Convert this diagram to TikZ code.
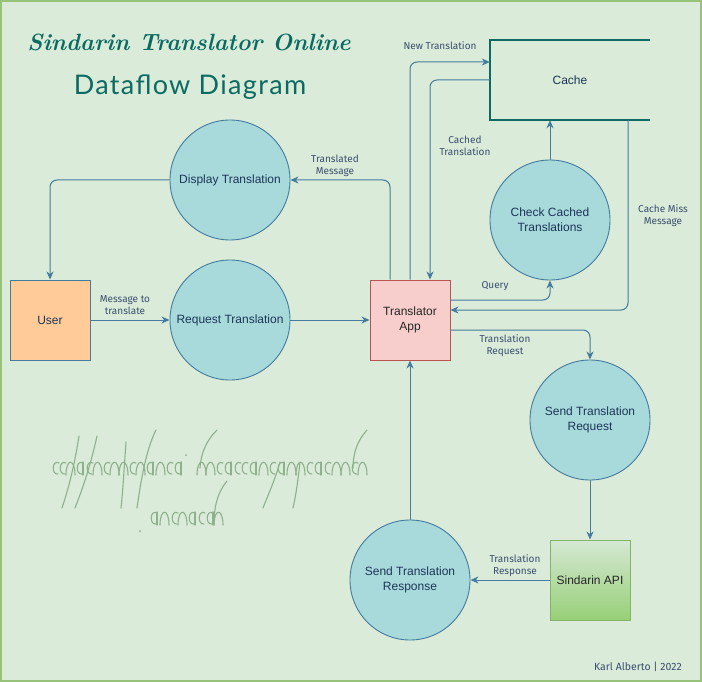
\documentclass[tikz,border=0pt]{standalone}
\usepackage{fontspec}
\usetikzlibrary{arrows.meta,shapes.geometric}
\newfontfamily\nodefont{Liberation Sans}
\newfontfamily\lblfont{Fira Sans}
\newfontfamily\subfont[LetterSpace=5]{Lato}
\definecolor{bgc}{HTML}{DAEBD9}
\definecolor{bgborder}{HTML}{97C27A}
\definecolor{procfill}{HTML}{A8DADC}
\definecolor{procline}{HTML}{457B9D}
\definecolor{navy}{HTML}{1D3557}
\definecolor{teal}{HTML}{0B6B62}
\definecolor{userfill}{HTML}{FFCC99}
\definecolor{appfill}{HTML}{F8CECC}
\definecolor{appline}{HTML}{B85450}
\definecolor{apitop}{HTML}{D5E8D4}
\definecolor{apibot}{HTML}{97D077}
\definecolor{apiline}{HTML}{82B366}
\definecolor{lblc}{HTML}{3C4E6E}
\definecolor{twc}{HTML}{8FB08C}
\newcommand\twglyphc[2]{\draw[twstroke] ({#1+7},{#2-12}) .. controls ({#1},{#2-16}) and ({#1-1},{#2}) .. ({#1+6},{#2-1});}
\newcommand\twglyphh[2]{\draw[twstroke] ({#1},{#2}) .. controls ({#1},{#2-17}) and ({#1+9},{#2-17}) .. ({#1+9},{#2});}
\newcommand\twglypha[2]{\draw[twstroke] ({#1+7},{#2-12}) .. controls ({#1},{#2-16}) and ({#1-1},{#2}) .. ({#1+6},{#2-1}); \draw[twstroke] ({#1+7},{#2-13}) -- ({#1+7},{#2});}
\begin{document}
\begin{tikzpicture}[x=1pt,y=-1pt,
  proc/.style={circle,draw=procline,fill=procfill,line width=0.9pt,minimum size=120pt,inner sep=0pt,align=center,font=\nodefont\fontsize{12}{15}\selectfont,text=navy},
  entity/.style={rectangle,line width=0.9pt,minimum size=80pt,inner sep=0pt,align=center,font=\nodefont\fontsize{12}{15}\selectfont},
  flow/.style={draw=procline,line width=1pt,rounded corners=7pt,-{Stealth[length=8pt,width=7pt,inset=2.5pt]}},
  lbl/.style={font=\lblfont\fontsize{10}{12}\selectfont,text=lblc,align=center,inner sep=1pt},
  twstroke/.style={draw=twc,line width=1.1pt,line cap=round}]
\useasboundingbox (0,0) rectangle (702,682);
\draw[fill=bgc,draw=bgborder,line width=1.6pt] (0.8,0.8) rectangle (701.2,681.2);

% titles
\node[text=teal,font=\bfseries\itshape\fontsize{23.5}{28}\selectfont,inner sep=0pt] (title) at (189,42) {Sindarin Translator Online};
\node[text=teal,font=\subfont\fontsize{27}{30}\selectfont,inner sep=0pt] (subtitle) at (190,87) {Dataflow Diagram};

% cache store
\node[minimum width=160pt,minimum height=80pt,inner sep=0pt,font=\nodefont\fontsize{12}{15}\selectfont,text=navy] (cache) at (570,80) {Cache};
\draw[draw=teal,line width=2pt] (cache.north east) -- (cache.north west) -- (cache.south west) -- (cache.south east);

% processes
\node[proc] (disp) at (230,180) {Display Translation};
\node[proc] (req) at (230,320) {Request Translation};
\node[proc] (check) at (550,220) {Check Cached\\Translations};
\node[proc] (sreq) at (590,420) {Send Translation\\Request};
\node[proc] (sresp) at (410,580) {Send Translation\\Response};

% entities
\node[entity,draw=procline,fill=userfill,text=navy] (user) at (50,320) {User};
\node[entity,draw=appline,fill=appfill,text=black!85] (app) at (410,320) {Translator\\App};
\node[entity,draw=apiline,top color=apitop,bottom color=apibot,text=black!85] (api) at (590,580) {Sindarin API};

% flows
\draw[flow] (disp.west) -| (user.north);
\draw[flow] (user.east) -- (req.west);
\node[lbl] (l1) at (125,305) {Message to\\translate};
\draw[flow] (req.east) -- (app.west);
\draw[flow] ([xshift=-20pt]app.north) |- (disp.east);
\node[lbl] (l2) at (335,166) {Translated\\Message};
\draw[flow] (app.north) |- ([yshift=18pt]cache.west);
\node[lbl] (l3) at (440,46) {New Translation};
\draw[flow] (cache.west) -| ([xshift=20pt]app.north);
\node[lbl] (l4) at (465,146) {Cached\\Translation};
\draw[flow] ([yshift=20pt]app.east) -| (check.south);
\node[lbl] (l5) at (495,286) {Query};
\draw[flow] (check.north) -- (check.north |- cache.south);
\draw[flow] ([xshift=58pt]cache.south) |- ([yshift=10pt]app.east);
\node[lbl] (l6) at (663,216) {Cache Miss\\Message};
\draw[flow] ([yshift=-10pt]app.east) -| (sreq.north);
\node[lbl] (l7) at (505,346) {Translation\\Request};
\draw[flow] (sreq.south) -- (api.north);
\draw[flow] (api.west) -- (sresp.east);
\node[lbl] (l8) at (515,566) {Translation\\Response};
\draw[flow] (sresp.north) -- (app.south);

% footer
\node[lbl,font=\lblfont\fontsize{10.5}{12}\selectfont,anchor=east] (foot) at (683,667) {Karl Alberto | 2022};

% tengwar-like decorative inscription
\foreach \t/\x in {c/52,c/59,h/66,a/76,c/86,h/93,c/103,h/110,h/119,c/129,h/136,a/146,h/156,c/166,a/174,
                   h/197,h/206,c/216,a/224,c/234,c/241,a/249,h/259,c/269,a/277,h/287,h/296,c/306,a/314,c/324,h/332,h/341,c/351,h/358}
  {\csname twglyph\t\endcsname{\x}{475}}
\foreach \t/\x in {a/150,h/160,c/171,h/178,a/188,c/198,a/206,h/214}
  {\csname twglyph\t\endcsname{\x}{525}}
\draw[twstroke] (79,436) .. controls (74,468) and (68,490) .. (62,508);
\draw[twstroke] (97,436) .. controls (90,468) and (82,490) .. (75,508);
\draw[twstroke] (126,442) .. controls (124,470) and (123,490) .. (121,508);
\draw[twstroke] (156,430) .. controls (146,450) and (141,480) .. (137,508);
\draw[twstroke] (217,430) .. controls (207,440) and (201,452) .. (200,468);
\draw[twstroke] (280,462) .. controls (275,480) and (268,495) .. (263,508);
\draw[twstroke] (300,462) .. controls (298,480) and (296,495) .. (293,508);
\draw[twstroke] (367,430) .. controls (358,440) and (353,452) .. (353,468);
\draw[twstroke] (227,481) .. controls (218,492) and (214,505) .. (214,525);
\fill[twc] (186,455) circle (1pt);
\fill[twc] (140,531) circle (1pt);
\end{tikzpicture}
\end{document}
